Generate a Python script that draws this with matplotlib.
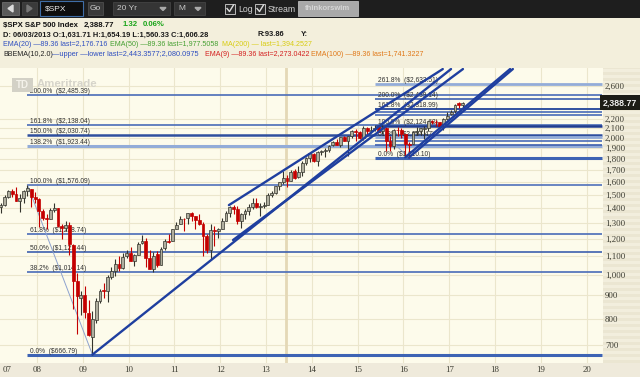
import matplotlib
matplotlib.use("Agg")
import matplotlib.pyplot as plt
from matplotlib.patches import Rectangle, Polygon
from matplotlib.ticker import FixedLocator, NullLocator
from matplotlib.transforms import offset_copy, blended_transform_factory

# monthly S&P 500 candles, Jan 2007 .. Apr 2017
start_year = 2007
opens = [
    1418.03, 1437.90, 1406.80, 1420.83, 1482.37, 1530.62, 1504.66, 1455.18, 1473.96, 1527.29, 1545.79, 1479.63,
    1467.97, 1378.60, 1330.45, 1326.41, 1385.97, 1399.62, 1276.69, 1269.42, 1287.83, 1164.17, 968.67, 888.61,
    902.99, 823.09, 729.57, 793.59, 872.74, 923.26, 920.82, 990.22, 1019.52, 1054.91, 1036.18, 1098.89,
    1116.56, 1073.89, 1105.36, 1171.23, 1188.58, 1087.30, 1031.10, 1107.53, 1049.72, 1143.49, 1185.71, 1186.60,
    1257.62, 1289.14, 1328.64, 1329.48, 1365.21, 1345.20, 1320.64, 1292.59, 1219.12, 1131.21, 1251.00, 1246.91,
    1258.86, 1312.45, 1365.90, 1408.47, 1397.86, 1309.87, 1362.33, 1379.32, 1406.54, 1440.90, 1412.20, 1416.18,
    1426.19, 1498.11, 1514.68, 1569.18, 1597.55, 1631.71, 1609.78, 1689.42, 1635.95, 1682.41, 1758.70, 1806.55,
    1845.86, 1782.68, 1857.68, 1873.96, 1884.39, 1923.87, 1962.29, 1929.80, 2004.07, 1971.44, 2018.21, 2065.78,
    2058.90, 1996.67, 2105.23, 2067.63, 2087.38, 2108.64, 2067.00, 2104.49, 1970.09, 1919.65, 2080.76, 2082.93,
    2038.20, 1936.94, 1937.09, 2056.62, 2067.17, 2093.94, 2099.34, 2173.15, 2171.33, 2164.33, 2128.68, 2200.17,
    2251.57, 2285.59, 2380.13, 2362.34]
highs = [
    1441.61, 1461.57, 1438.89, 1498.02, 1535.56, 1540.56, 1555.90, 1503.89, 1538.74, 1576.09, 1545.79, 1523.57,
    1471.77, 1396.02, 1359.68, 1404.57, 1440.24, 1404.05, 1292.17, 1313.15, 1303.04, 1167.03, 1007.51, 918.85,
    943.85, 877.86, 832.98, 888.70, 930.17, 956.23, 996.68, 1039.47, 1080.15, 1101.36, 1113.69, 1130.38,
    1150.45, 1112.42, 1180.69, 1219.80, 1205.13, 1131.23, 1120.95, 1129.24, 1148.90, 1196.14, 1227.08, 1262.60,
    1302.67, 1344.07, 1332.28, 1364.56, 1370.58, 1345.20, 1356.48, 1307.38, 1229.29, 1292.66, 1277.55, 1269.37,
    1333.47, 1378.04, 1419.15, 1422.38, 1415.32, 1363.46, 1391.74, 1426.68, 1474.51, 1470.96, 1434.27, 1448.00,
    1509.94, 1530.94, 1570.28, 1597.57, 1687.18, 1654.19, 1698.78, 1709.67, 1729.86, 1775.22, 1813.55, 1849.44,
    1850.84, 1867.92, 1883.97, 1897.28, 1924.03, 1968.17, 1991.39, 2005.04, 2019.26, 2018.19, 2075.76, 2093.55,
    2072.36, 2119.59, 2117.52, 2125.92, 2134.72, 2129.87, 2132.82, 2112.66, 2020.86, 2094.32, 2116.48, 2104.27,
    2038.20, 1962.96, 2072.21, 2111.05, 2103.48, 2120.55, 2177.09, 2193.81, 2187.87, 2169.60, 2214.10, 2277.53,
    2300.99, 2371.54, 2400.98, 2398.16]
lows = [
    1403.97, 1389.42, 1363.98, 1416.37, 1476.70, 1484.18, 1454.25, 1370.60, 1439.29, 1489.56, 1406.10, 1435.65,
    1270.05, 1316.75, 1256.98, 1324.35, 1373.07, 1272.00, 1200.44, 1247.45, 1106.42, 839.80, 741.02, 815.69,
    804.30, 734.52, 666.79, 783.32, 866.10, 888.86, 869.32, 978.51, 991.97, 1020.18, 1029.38, 1085.89,
    1071.59, 1044.50, 1105.36, 1170.69, 1040.78, 1028.33, 1010.91, 1039.70, 1049.72, 1131.87, 1173.00, 1186.60,
    1257.62, 1289.14, 1249.05, 1294.70, 1311.80, 1258.07, 1282.86, 1101.54, 1114.22, 1074.77, 1158.66, 1202.37,
    1258.86, 1312.45, 1340.03, 1357.38, 1291.98, 1266.74, 1325.41, 1354.65, 1396.56, 1403.28, 1343.35, 1398.11,
    1426.19, 1485.01, 1501.48, 1536.03, 1581.28, 1560.33, 1604.57, 1627.47, 1633.41, 1646.47, 1746.20, 1767.99,
    1770.45, 1737.92, 1834.44, 1814.36, 1859.79, 1915.98, 1930.67, 1904.78, 1964.04, 1820.66, 2001.01, 1972.56,
    1988.12, 1980.90, 2039.69, 2048.38, 2067.93, 2056.32, 2044.02, 1867.01, 1871.91, 1893.70, 2019.39, 1993.26,
    1812.29, 1810.10, 1937.09, 2033.80, 2025.91, 1991.68, 2074.02, 2147.58, 2119.12, 2114.72, 2083.79, 2187.44,
    2245.13, 2271.65, 2322.25, 2328.95]
closes = [
    1438.24, 1406.82, 1420.86, 1482.37, 1530.62, 1503.35, 1455.27, 1473.99, 1526.75, 1549.38, 1481.14, 1468.36,
    1378.55, 1330.63, 1322.70, 1385.59, 1400.38, 1280.00, 1267.38, 1282.83, 1166.36, 968.75, 896.24, 903.25,
    825.88, 735.09, 797.87, 872.81, 919.14, 919.32, 987.48, 1020.62, 1057.08, 1036.19, 1095.63, 1115.10,
    1073.87, 1104.49, 1169.43, 1186.69, 1089.41, 1030.71, 1101.60, 1049.33, 1141.20, 1183.26, 1180.55, 1257.64,
    1286.12, 1327.22, 1325.83, 1363.61, 1345.20, 1320.64, 1292.28, 1218.89, 1131.42, 1253.30, 1246.96, 1257.60,
    1312.41, 1365.68, 1408.47, 1397.91, 1310.33, 1362.16, 1379.32, 1406.58, 1440.67, 1412.16, 1416.18, 1426.19,
    1498.11, 1514.68, 1569.19, 1597.57, 1630.74, 1606.28, 1685.73, 1632.97, 1681.55, 1756.54, 1805.81, 1848.36,
    1782.59, 1859.45, 1872.34, 1883.95, 1923.57, 1960.23, 1930.67, 2003.37, 1972.29, 2018.05, 2067.56, 2058.90,
    1994.99, 2104.50, 2067.89, 2085.51, 2107.39, 2063.11, 2103.84, 1972.18, 1920.03, 2079.36, 2080.41, 2043.94,
    1940.24, 1932.23, 2059.74, 2065.30, 2096.95, 2098.86, 2173.60, 2170.95, 2168.27, 2126.15, 2198.81, 2238.83,
    2278.87, 2363.64, 2362.72, 2388.77]

last_price = 2388.77
cursor_date = 2013.44

# fibonacci retracements: (date, price) of the two anchors
left_fib_high = (2007.79, 1576.09)
left_fib_low = (2009.21, 666.79)
left_fib_levels = [0, 38.2, 50, 61.8, 100, 138.2, 150, 161.8, 200]
right_fib_high = (2015.38, 2124.62)
right_fib_low = (2016.12, 1810.10)
right_fib_levels = [0, 38.2, 50, 61.8, 100, 138.2, 150, 161.8, 200, 261.8]
right_fib_labeled = [0, 61.8, 100, 161.8, 200, 261.8]

# trend channel lines: (date0, price0, date1, price1)
channel_lines = [
    (2009.21, 666.79, 2017.04, 2834),
    (2012.28, 1191.6, 2017.30, 2834),
    (2012.19, 1422.0, 2016.86, 2834),
    (2016.04, 1812.29, 2018.33, 2834),
    (2016.12, 1810.10, 2018.39, 2834),
]

price_ticks = [700, 800, 900, 1000, 1100, 1200, 1300, 1400, 1500, 1600, 1700,
               1800, 1900, 2000, 2100, 2200, 2600]
year_ticks = list(range(2008, 2021))
year_labels = ['%02d' % (y % 100) for y in year_ticks]

W, H = 640, 377
fig = plt.figure(figsize=(W / 100, H / 100), dpi=100)
fig.patch.set_facecolor('#f3efdc')


def px_axes(x0, y0, x1, y1):
    return fig.add_axes([x0 / W, 1 - y1 / H, (x1 - x0) / W, (y1 - y0) / H])


# right price strip (striped) and bottom strip
strip = px_axes(603, 68, 640, 363)
strip.set_xlim(0, 1)
strip.set_ylim(0, 295)
strip.axis('off')
for i in range(0, 295, 6):
    strip.axhspan(i, i + 3, color='#ebe6d2', lw=0)
    strip.axhspan(i + 3, i + 6, color='#f2eedd', lw=0)
bottom = px_axes(0, 363, 640, 377)
bottom.axis('off')
bottom.add_patch(Rectangle((0, 0), 1, 1, transform=bottom.transAxes, color='#efeadb'))

# main chart
ax = px_axes(0, 68, 603, 363)
ax.set_facecolor('#fdfbeb')
ax.set_yscale('log')
ax.set_xlim(2007.192, 2020.358)
ax.set_ylim(639, 2849)
for s in ax.spines.values():
    s.set_visible(False)

ax.yaxis.tick_right()
ax.yaxis.set_major_locator(FixedLocator(price_ticks))
ax.yaxis.set_minor_locator(NullLocator())
ax.set_yticklabels(['{:,}'.format(p) for p in price_ticks])
ax.set_xticks(year_ticks)
ax.set_xticklabels(year_labels)
ax.tick_params(axis='y', length=0, pad=1.5, labelsize=6.3, labelcolor='#3a3a30')
ax.tick_params(axis='x', length=0, pad=2.5, labelsize=6.3, labelcolor='#3a3a30')
for lab in ax.get_xticklabels() + ax.get_yticklabels():
    lab.set_family('Liberation Serif')
ax.grid(True, color='#ebe6cc', lw=0.8, zorder=0)
ax.set_axisbelow(True)

ax.axvline(cursor_date, color='#e4d8b6', lw=2, zorder=1)

# fibonacci levels
xr = 2020.33
lab_tr = offset_copy(ax.transData, fig=fig, x=3, y=-0.5, units='dots')
left_style = {0: ('#3d63b4', 2.2), 38.2: ('#4a6cb8', 1.2), 50: ('#3d5fae', 1.2),
              61.8: ('#4a6cb8', 1.2), 100: ('#4f70ba', 1.2), 138.2: ('#93acd8', 2.2),
              150: ('#2f4f9e', 1.8), 161.8: ('#4a6cb8', 1.2), 200: ('#4a6cb8', 1.2)}
lt, lp = left_fib_low
ht, hp = left_fib_high
for lvl in left_fib_levels:
    price = lp + lvl / 100 * (hp - lp)
    col, lw = left_style[lvl]
    ax.plot([ht, xr], [price, price], color=col, lw=lw, zorder=2, solid_capstyle='butt')
    ax.text(ht, price, '%.1f%%  ($%s)' % (lvl, '{:,.2f}'.format(price)), transform=lab_tr,
            fontsize=4.8, family='Liberation Sans', color='#303030', va='bottom', ha='left', zorder=3)
ax.plot([ht, lt], [hp, lp], color='#8da2cf', lw=0.7, zorder=2)

right_style = {0: ('#3d63b4', 2.2), 38.2: ('#3d5fae', 1.2), 50: ('#4a6cb8', 1.2),
               61.8: ('#93acd8', 2.0), 100: ('#203c90', 1.8), 138.2: ('#4a6cb8', 1.2),
               150: ('#4a6cb8', 1.2), 161.8: ('#2f4f9e', 1.4), 200: ('#3d5fae', 1.2),
               261.8: ('#93acd8', 2.0)}
lt, lp = right_fib_low
ht, hp = right_fib_high
for lvl in right_fib_levels:
    price = lp + lvl / 100 * (hp - lp)
    col, lw = right_style[lvl]
    ax.plot([ht, xr], [price, price], color=col, lw=lw, zorder=2, solid_capstyle='butt')
    if lvl in right_fib_labeled:
        ax.text(ht, price, '%.1f%%  ($%s)' % (lvl, '{:,.2f}'.format(price)), transform=lab_tr,
                fontsize=4.8, family='Liberation Sans', color='#303030', va='bottom', ha='left', zorder=3)
ax.plot([ht, lt], [hp, lp], color='#8da2cf', lw=0.7, zorder=2)

# channels
for t0, p0, t1, p1 in channel_lines:
    ax.plot([t0, t1], [p0, p1], color='#1f3f9f', lw=1.7, zorder=6, solid_capstyle='round')

# candles
dates = [start_year + i / 12 + 1 / 24 for i in range(len(closes))]
for d, o, h, l, c in zip(dates, opens, highs, lows, closes):
    up = c >= o
    edge = '#34342c' if up else '#c40000'
    ax.vlines(d, l, h, color=edge, lw=0.8, zorder=4)
    ax.bar(d, max(abs(c - o), 1.0), bottom=min(o, c), width=0.062,
           color='#b0af9f' if up else '#c40000', edgecolor=edge, lw=0.5, zorder=5)

ax.text(1.0, last_price, '{:,.2f}'.format(last_price),
        transform=blended_transform_factory(ax.transAxes, ax.transData),
        fontsize=6.3, family='Liberation Sans', fontweight='bold', color='#eeeeee',
        va='center', ha='left', zorder=10,
        bbox=dict(boxstyle='square,pad=0.35', fc='#1c1c16', ec='none'))

# overlay for toolbar, header and watermark (pixel coords)
ov = fig.add_axes([0, 0, 1, 1])
ov.set_xlim(0, W)
ov.set_ylim(H, 0)
ov.axis('off')

ov.add_patch(Rectangle((0, 0), W, 17.5, color='#1e1e1e', lw=0))
ov.add_patch(Rectangle((2, 2), 17, 13, fc='#5a5a5a', ec='#777777', lw=0.5))
ov.add_patch(Polygon([(8, 8.5), (13, 5), (13, 12)], color='#dddddd'))
ov.add_patch(Rectangle((22, 2), 15, 13, fc='#3a3a3a', ec='#4a4a4a', lw=0.5))
ov.add_patch(Polygon([(32, 8.5), (27, 5), (27, 12)], color='#777777'))
ov.add_patch(Rectangle((40, 1), 43, 15, fc='#0e0e0e', ec='#3f6da6', lw=0.8))
ov.text(45, 9, '$SPX', color='#f0f0f0', fontsize=6, family='Liberation Sans', va='center')
ov.add_patch(Rectangle((88, 2), 15, 13, fc='#3a3a3a', ec='#555555', lw=0.5))
ov.text(95.5, 9, 'Go', color='#d0d0d0', fontsize=6, family='Liberation Sans', va='center', ha='center')
for x0, x1, txt in [(113, 170, '20 Yr'), (174, 205, 'M')]:
    ov.add_patch(Rectangle((x0, 2), x1 - x0, 13, fc='#353535', ec='#4a4a4a', lw=0.5))
    ov.text(x0 + 4, 9, txt, color='#c8c8c8', fontsize=6, family='Liberation Sans', va='center')
    ov.add_patch(Polygon([(x1 - 10, 7.5), (x1 - 4, 7.5), (x1 - 7, 10.5)], color='#aaaaaa'))
for x0, txt in [(225, 'Log'), (255, 'Stream')]:
    ov.add_patch(Rectangle((x0, 3.5), 10, 10, fc='#2a2a2a', ec='#bbbbbb', lw=0.7))
    ov.plot([x0 + 2, x0 + 4.5, x0 + 8.5], [8.5, 11.5, 5], color='#dddddd', lw=1)
    ov.text(x0 + 13, 9, txt, color='#d0d0d0', fontsize=6.3, family='Liberation Sans', va='center')
ov.add_patch(Rectangle((298, 1), 60, 15, fc='#a9a9a9', ec='#cccccc', lw=0.5))
ov.text(328, 9, 'thinkorswim', color='#d6d6d6', fontsize=5.5, family='Liberation Sans',
        va='center', ha='center', fontweight='bold')

hdr = dict(family='Liberation Sans', va='center', ha='left')
ov.text(3, 25, '$SPX S&P 500 Index', fontsize=5.6, fontweight='bold', color='#111111', **hdr)
ov.text(84, 25, '2,388.77', fontsize=5.6, fontweight='bold', color='#111111', **hdr)
ov.text(123, 25, '1.32', fontsize=5.6, fontweight='bold', color='#1aa51a', **hdr)
ov.text(143, 25, '0.06%', fontsize=5.6, fontweight='bold', color='#1aa51a', **hdr)
ov.text(3, 35, 'D: 06/03/2013 O:1,631.71 H:1,654.19 L:1,560.33 C:1,606.28',
        fontsize=5.4, fontweight='bold', color='#1a1a1a', **hdr)
ov.text(258, 35, 'R:93.86', fontsize=5.4, fontweight='bold', color='#1a1a1a', **hdr)
ov.text(301, 35, 'Y:', fontsize=5.4, fontweight='bold', color='#1a1a1a', **hdr)
ov.text(3, 44.5, 'EMA(20) \u201489.36 last=2,176.716', fontsize=5.1, color='#2f4fc0', **hdr)
ov.text(110, 44.5, 'EMA(50) \u201489.36 last=1,977.5058', fontsize=5.1, color='#46a032', **hdr)
ov.text(222, 44.5, 'MA(200) \u2014 last=1,394.2527', fontsize=5.1, color='#d8cc10', **hdr)
ov.text(3, 54, 'BBEMA(10,2.0)', fontsize=5.1, color='#222222', **hdr)
ov.text(52, 54, '\u2014upper \u2014lower last=2,443.3577;2,080.0975', fontsize=5.3, color='#2f4fc0', **hdr)
ov.text(205, 54, 'EMA(9) \u201489.36 last=2,273.0422', fontsize=5.1, color='#d42020', **hdr)
ov.text(311, 54, 'EMA(100) \u201489.36 last=1,741.3227', fontsize=5.1, color='#e07818', **hdr)

# TD Ameritrade watermark
ov.add_patch(Rectangle((12, 78), 21, 14, fc='#d3d1c6', ec='none'))
ov.text(22.5, 85, 'TD', fontsize=7, fontweight='bold', color='#f4f2ea', family='Liberation Sans',
        ha='center', va='center')
ov.text(37, 84, 'Ameritrade', fontsize=8.2, fontweight='bold', color='#d6d4ca', family='Liberation Sans',
        ha='left', va='center')

ov.text(7, 370, '07', fontsize=6.3, family='Liberation Serif', color='#3a3a30', ha='center', va='center')

fig.savefig('out.png', dpi=100, facecolor=fig.get_facecolor())
